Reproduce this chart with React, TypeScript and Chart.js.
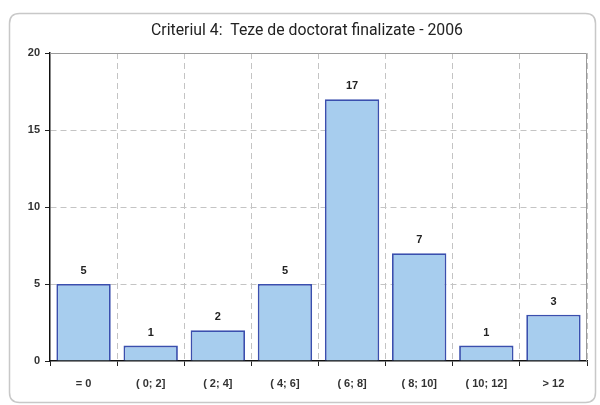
import React, { useEffect, useRef } from "react";
import { Chart, registerables } from "chart.js";

Chart.register(...registerables);

const categories = ["= 0", "( 0; 2]", "( 2; 4]", "( 4; 6]", "( 6; 8]", "( 8; 10]", "( 10; 12]", "> 12"];
const values = [5, 1, 2, 5, 17, 7, 1, 3];
const yTicks = [0, 5, 10, 15, 20];
const title = "Criteriul 4:  Teze de doctorat finalizate - 2006";

const FONT = "'Liberation Sans', Arial, sans-serif";
const TITLE_FONT = "Roboto, 'Liberation Sans', sans-serif";

const framePlugin = {
  id: "frame",
  beforeDraw(chart: any) {
    const ctx = chart.ctx;
    ctx.save();
    ctx.fillStyle = "#ffffff";
    ctx.fillRect(0, 0, chart.width, chart.height);
    const x = 9.5, y = 13.5, w = 586, h = 389, r = 10;
    ctx.beginPath();
    ctx.moveTo(x + r, y);
    ctx.lineTo(x + w - r, y);
    ctx.quadraticCurveTo(x + w, y, x + w, y + r);
    ctx.lineTo(x + w, y + h - r);
    ctx.quadraticCurveTo(x + w, y + h, x + w - r, y + h);
    ctx.lineTo(x + r, y + h);
    ctx.quadraticCurveTo(x, y + h, x, y + h - r);
    ctx.lineTo(x, y + r);
    ctx.quadraticCurveTo(x, y, x + r, y);
    ctx.closePath();
    ctx.strokeStyle = "#c8c8c8";
    ctx.lineWidth = 1.5;
    ctx.stroke();
    ctx.fillStyle = "#222222";
    ctx.font = `15.8px ${TITLE_FONT}`;
    ctx.textAlign = "center";
    ctx.textBaseline = "middle";
    ctx.fillText(title, 307, 31.5);
    ctx.restore();
  },
  afterDraw(chart: any) {
    const { left, right, top, bottom } = chart.chartArea;
    const ctx = chart.ctx;
    ctx.save();
    ctx.strokeStyle = "#9a9a9a";
    ctx.lineWidth = 1;
    ctx.beginPath();
    ctx.moveTo(left, top + 0.5);
    ctx.lineTo(Math.round(right) - 0.5, top + 0.5);
    ctx.lineTo(Math.round(right) - 0.5, bottom);
    ctx.stroke();
    ctx.restore();
  },
  afterDatasetsDraw(chart: any) {
    const ctx = chart.ctx;
    const meta = chart.getDatasetMeta(0);
    ctx.save();
    ctx.fillStyle = "#222222";
    ctx.font = `bold 11px ${FONT}`;
    ctx.textAlign = "center";
    ctx.textBaseline = "middle";
    meta.data.forEach((bar: any, i: number) => {
      ctx.fillText(String(values[i]), bar.x, bar.y - 13);
    });
    ctx.restore();
  },
};

export default function App() {
  const ref = useRef<HTMLCanvasElement>(null);
  useEffect(() => {
    const chart = new Chart(ref.current as HTMLCanvasElement, {
      type: "bar",
      data: {
        labels: categories,
        datasets: [
          {
            data: values,
            backgroundColor: "#a7cdee",
            borderColor: "#3a4fae",
            borderWidth: 1.8,
            barPercentage: 0.81,
            categoryPercentage: 1,
          },
        ],
      },
      options: {
        animation: false,
        responsive: false,
        maintainAspectRatio: false,
        layout: { padding: { left: 0, right: 13, top: 53, bottom: 0 } },
        plugins: { legend: { display: false }, title: { display: false }, tooltip: { enabled: false } },
        scales: {
          x: {
            offset: true,
            afterFit(scale: any) {
              scale.height = 44;
            },
            grid: {
              offset: true,
              color: (c: any) => (c.index === 0 ? "rgba(0,0,0,0)" : "#c4c4c4"),
              lineWidth: 1,
              tickColor: "#222222",
              tickLength: 5,
              drawOnChartArea: true,
            },
            border: { display: true, color: "#111111", width: 1.5, dash: [6, 4] },
            ticks: {
              color: "#333333",
              font: { family: FONT, size: 11, weight: "bold" },
              padding: 11,
              maxRotation: 0,
            },
          },
          y: {
            min: 0,
            max: 20,
            afterFit(scale: any) {
              scale.width = 50;
            },
            afterBuildTicks(scale: any) {
              scale.ticks = yTicks.map((v) => ({ value: v }));
            },
            grid: {
              color: (c: any) => (c.tick && (c.tick.value === 0 || c.tick.value === 20) ? "rgba(0,0,0,0)" : "#c4c4c4"),
              lineWidth: 1,
              tickColor: "#222222",
              tickLength: 5,
            },
            border: { display: true, color: "#111111", width: 1.5, dash: [6, 4] },
            ticks: {
              color: "#333333",
              font: { family: FONT, size: 11, weight: "bold" },
              padding: 5,
            },
          },
        },
      },
      plugins: [framePlugin],
    } as any);
    return () => chart.destroy();
  }, []);
  return (
    <div style={{ position: "fixed", left: 0, top: 0, width: 600, height: 405, background: "#fff" }}>
      <canvas ref={ref} width={600} height={405} style={{ width: 600, height: 405, display: "block" }} />
    </div>
  );
}
